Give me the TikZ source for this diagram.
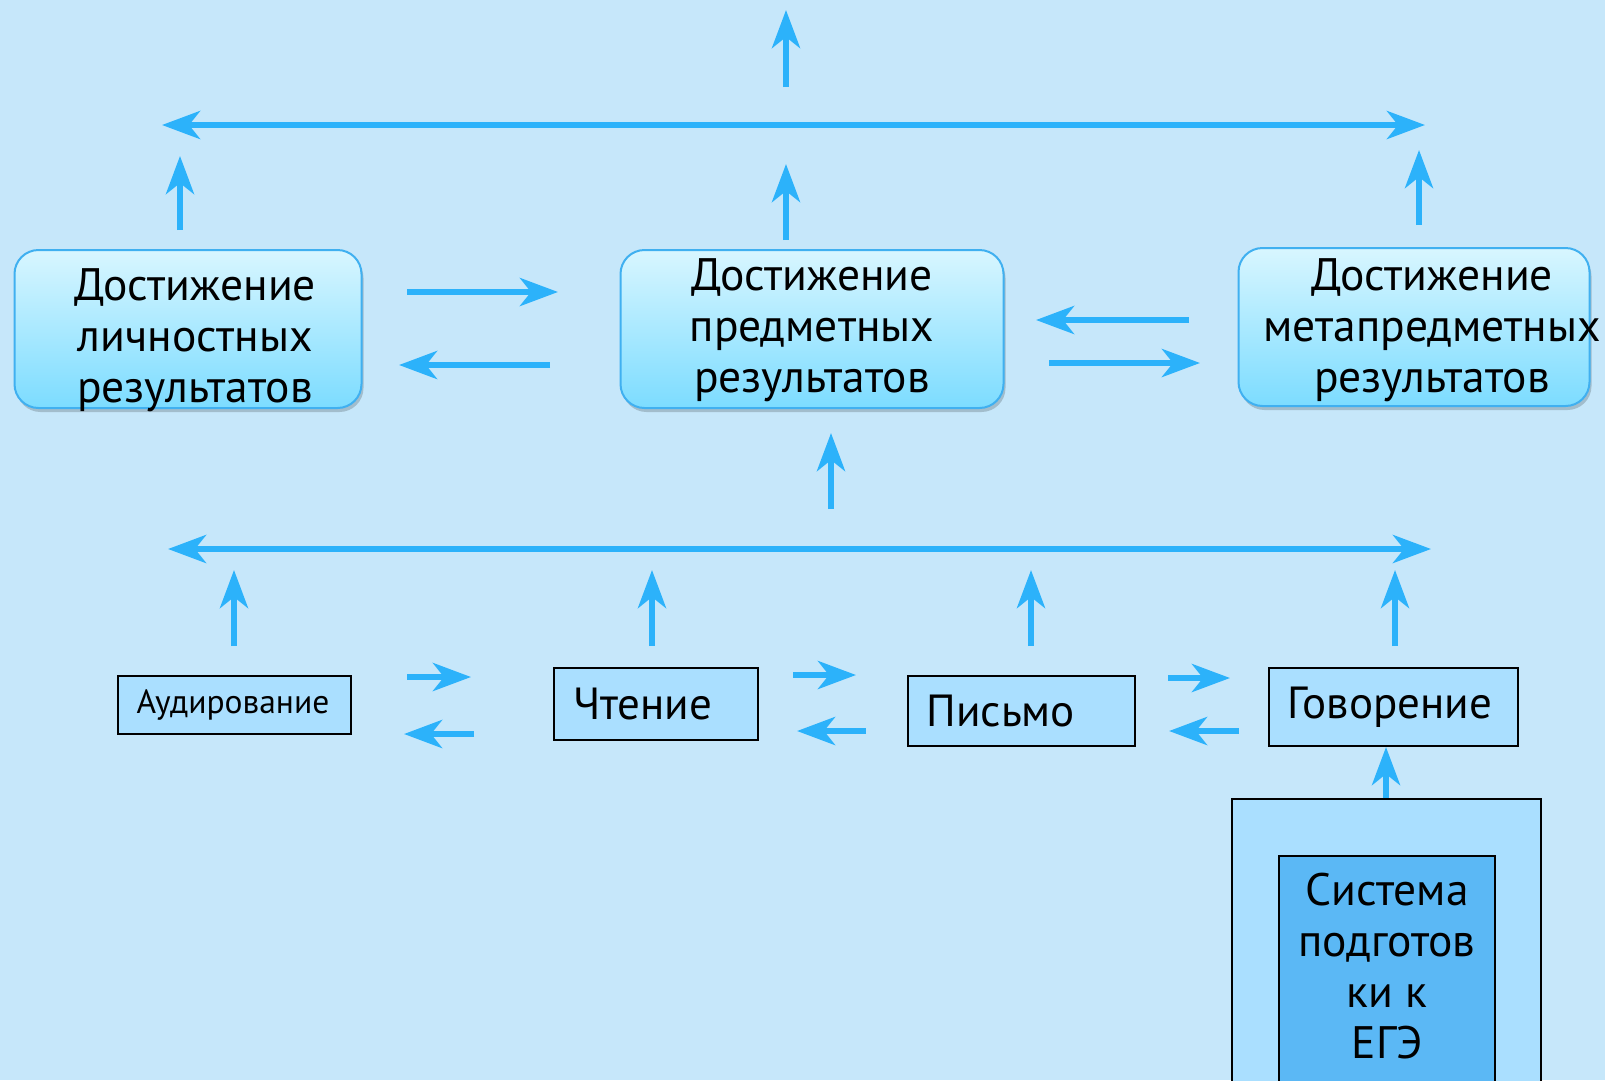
\documentclass[tikz,border=0pt]{standalone}
\usepackage{fontspec}
\setmainfont{PT Sans}
\usetikzlibrary{arrows.meta, shadows}

\definecolor{bgblue}{RGB}{198,231,250}
\definecolor{arrowblue}{RGB}{44,178,250}
\definecolor{goalline}{RGB}{64,176,240}
\definecolor{goaltop}{RGB}{216,246,255}
\definecolor{goalbot}{RGB}{124,220,255}
\definecolor{skillfill}{RGB}{170,223,255}
\definecolor{egefill}{RGB}{91,184,245}

\begin{document}
\begin{tikzpicture}[x=1pt, y=-1pt]
  \tikzset{arr/.style={-{Stealth[length=38pt, width=28pt, inset=11pt]}, line width=6pt, arrowblue}}
  \tikzset{darr/.style={{Stealth[length=38pt, width=28pt, inset=11pt]}-{Stealth[length=38pt, width=28pt, inset=11pt]}, line width=6pt, arrowblue}}
  \tikzset{goal/.style={rounded corners=24pt, draw=goalline, line width=2pt, top color=goaltop, bottom color=goalbot, minimum height=158pt,
      drop shadow={shadow xshift=2pt, shadow yshift=-4pt, opacity=0.18, fill=black}}}
  \tikzset{goaltext/.style={align=center, inner sep=0pt, font=\fontsize{45.5}{51}\selectfont}}
  \tikzset{skill/.style={draw=black, line width=2pt, fill=skillfill, align=left, inner xsep=19pt, inner ysep=0pt, font=\fontsize{45}{50}\selectfont}}

  \useasboundingbox (0,0) rectangle (1605,1080);
  \clip (0,0) rectangle (1605,1080);
  \fill[bgblue] (0,0) rectangle (1605,1080);

  % Goal boxes
  \node[goal, minimum width=347pt] (lichn) at (188,329) {};
  \node[goal, minimum width=383pt] (predm) at (812,329) {};
  \node[goal, minimum width=351pt] (meta) at (1414,327) {};
  \node[goaltext] (lichn-t) at (195,340) {Достижение\\личностных\\результатов};
  \node[goaltext] (predm-t) at (812,330) {Достижение\\предметных\\результатов};
  \node[goaltext] (meta-t) at (1432,330) {Достижение\\метапредметных\\результатов};

  % Skill boxes
  \node[skill, text width=195pt, minimum height=58pt, font=\fontsize{33.5}{38}\selectfont] (aud) at (234,705) {Аудирование};
  \node[skill, text width=166pt, minimum height=72pt] (chten) at (656,704) {Чтение};
  \node[skill, text width=189pt, minimum height=70pt] (pism) at (1021,711) {Письмо};
  \node[skill, text width=211pt, minimum height=78pt] (govor) at (1393,707) {Говорение};

  % EGE block
  \node[draw=black, line width=2pt, fill=skillfill, minimum width=309pt, minimum height=302pt] (outer) at (1386,950) {};
  \node[draw=black, line width=2pt, fill=egefill, minimum width=216pt, minimum height=234pt] (sist) at (1387,973) {};
  \node[goaltext] (sist-t) at (1387,966) {Система\\подготов\\ки к\\ЕГЭ};
  \draw[arr] (outer.north) -- (outer.north |- govor.south);

  % Upper arrows
  \coordinate (t1) at (786,87); \coordinate (t2) at (786,10);
  \coordinate (h1l) at (162,125); \coordinate (h1r) at (1425,125);
  \coordinate (u1a) at (180,230); \coordinate (u1b) at (180,156);
  \coordinate (u2a) at (786,240); \coordinate (u2b) at (786,164);
  \coordinate (u3a) at (1419,225); \coordinate (u3b) at (1419,150);
  \draw[arr] (t1) -- (t2);
  \draw[darr] (h1l) -- (h1r);
  \draw[arr] (u1a) -- (u1b);
  \draw[arr] (u2a) -- (u2b);
  \draw[arr] (u3a) -- (u3b);

  % Arrows between goal boxes
  \coordinate (lp1) at (407,292); \coordinate (lp2) at (558,292);
  \coordinate (pl1) at (550,365); \coordinate (pl2) at (399,365);
  \coordinate (mp1) at (1189,320); \coordinate (mp2) at (1036,320);
  \coordinate (pm1) at (1049,363); \coordinate (pm2) at (1200,363);
  \draw[arr] (lp1) -- (lp2);
  \draw[arr] (pl1) -- (pl2);
  \draw[arr] (mp1) -- (mp2);
  \draw[arr] (pm1) -- (pm2);

  % Middle arrows
  \coordinate (c1) at (831,509); \coordinate (c2) at (831,433);
  \coordinate (h2l) at (168,549); \coordinate (h2r) at (1431,549);
  \draw[arr] (c1) -- (c2);
  \draw[darr] (h2l) -- (h2r);
  \foreach \x/\n in {234/a, 652/b, 1031/c, 1395/d} {
    \coordinate (s\n1) at (\x,646); \coordinate (s\n2) at (\x,570);
    \draw[arr] (s\n1) -- (s\n2);
  }

  % Arrows between skill boxes
  \coordinate (ac1) at (407,677); \coordinate (ac2) at (471,677);
  \coordinate (ca1) at (474,734); \coordinate (ca2) at (404,734);
  \coordinate (cp1) at (793,675); \coordinate (cp2) at (856,675);
  \coordinate (pc1) at (866,731); \coordinate (pc2) at (797,731);
  \coordinate (pg1) at (1168,678); \coordinate (pg2) at (1230,678);
  \coordinate (gp1) at (1239,731); \coordinate (gp2) at (1169,731);
  \draw[arr] (ac1) -- (ac2); \draw[arr] (ca1) -- (ca2);
  \draw[arr] (cp1) -- (cp2); \draw[arr] (pc1) -- (pc2);
  \draw[arr] (pg1) -- (pg2); \draw[arr] (gp1) -- (gp2);
\end{tikzpicture}
\end{document}
